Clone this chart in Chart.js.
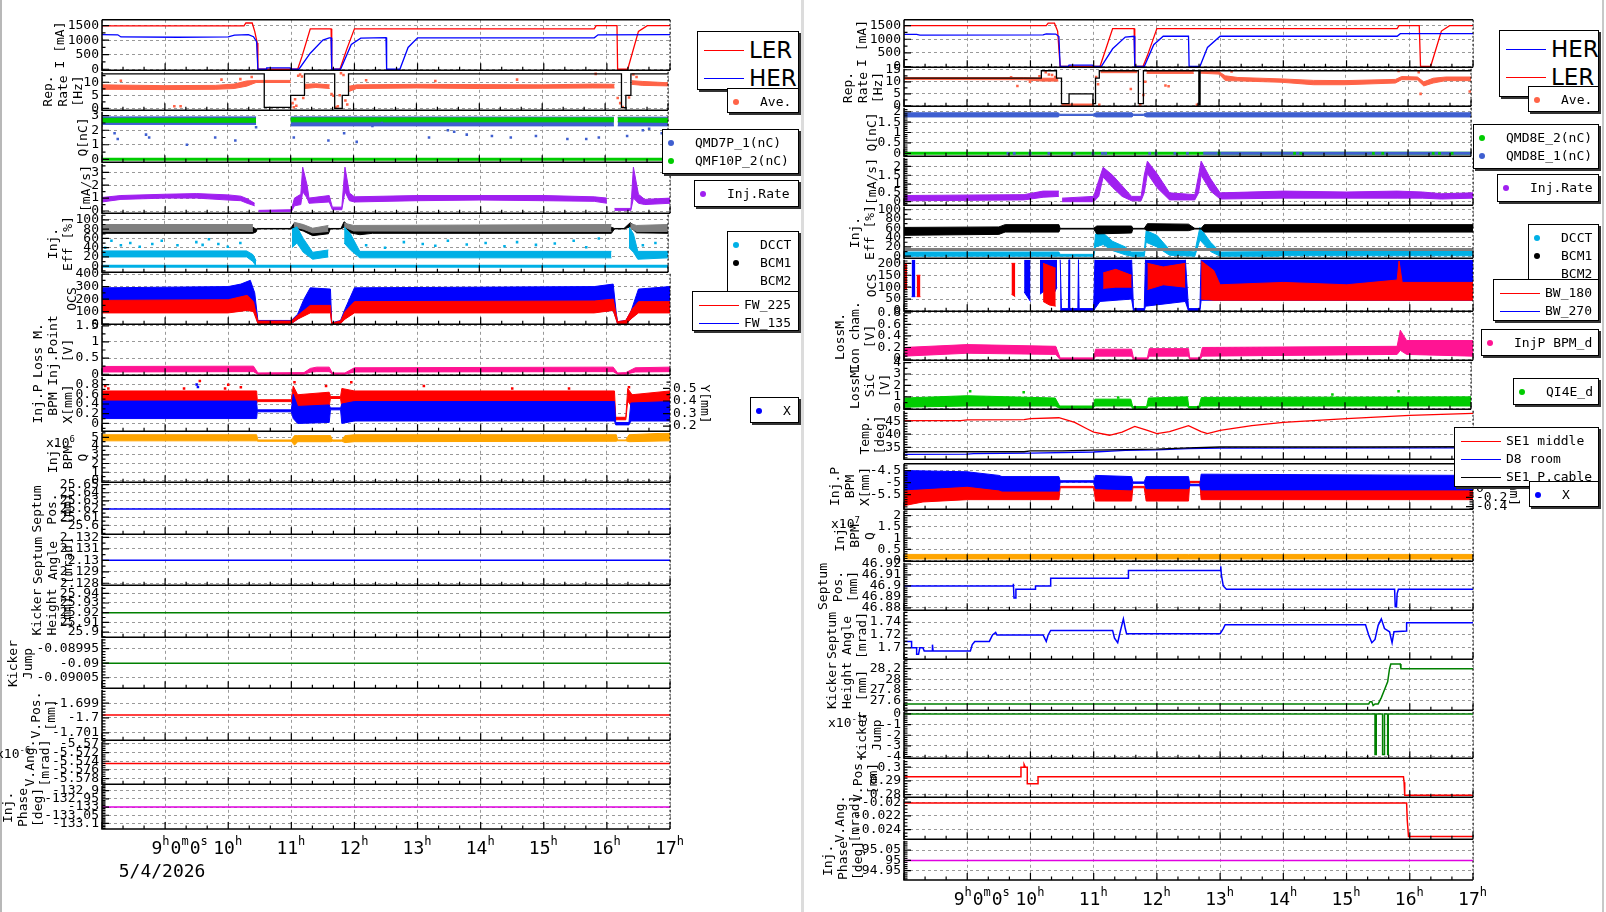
<!DOCTYPE html>
<html>
<head>
<meta charset="utf-8">
<title>injection monitor</title>
<script src="https://cdn.jsdelivr.net/npm/chart.js@4.4.1/dist/chart.umd.min.js"></script>
<style>
html,body{margin:0;padding:0;background:#fff;}
body{position:relative;width:1606px;height:912px;overflow:hidden;font-family:'DejaVu Sans Mono',monospace;}
canvas{position:absolute;}
.leg{position:absolute;box-sizing:border-box;background:#fff;border:1px solid #000;box-shadow:2px 2px 0 #333;z-index:5;}
.leg div{position:absolute;white-space:nowrap;}
.txt{position:absolute;z-index:4;font-size:13px;font-family:'DejaVu Sans Mono';white-space:nowrap;}
.txt sup{font-size:9px;}
.sep{position:absolute;top:0;height:912px;}
</style>
</head>
<body>
<div class="sep" style="left:0;width:2px;background:#b8b8b8"></div>
<div class="sep" style="left:801px;width:3px;background:#dcdcdc"></div>
<div class="sep" style="left:1602px;width:2px;background:#c8c8c8"></div>
<script>
// time axis (hours)
const hourTicks = [8, 9, 10, 11, 12, 13, 14, 15, 16, 17];
const xTickHours = [9, 10, 11, 12, 13, 14, 15, 16, 17];
const xTickLabels = [[['9','h'],['0','m'],['0','s']], [['10','h']], [['11','h']], [['12','h']], [['13','h']], [['14','h']], [['15','h']], [['16','h']], [['17','h']]];
const dateLabel = '5/4/2026';

// ---------- left column data ----------
const lerL = [[8,1490],[9.5,1490],[10.25,1490],[10.28,1590],[10.38,1590],[10.42,1300],[10.46,900],[10.47,0],[11.1,0],[11.17,450],[11.3,1390],[11.63,1390],[11.64,0],[11.77,0],[11.88,700],[12.0,1390],[15.8,1390],[15.83,1500],[16.16,1500],[16.17,0],[16.33,0],[16.5,1300],[16.64,1500],[17,1500]];
const herL = [[8,1190],[8.25,1185],[8.3,1110],[9.2,1100],[10.0,1110],[10.1,1170],[10.32,1190],[10.4,1120],[10.45,950],[10.47,0],[10.6,0],[10.61,50],[10.98,50],[10.99,0],[11.12,0],[11.3,550],[11.5,1000],[11.6,1080],[11.63,1080],[11.64,0],[11.78,0],[11.95,850],[12.1,1070],[12.5,1090],[12.51,0],[12.72,0],[12.85,750],[13.0,1080],[15.8,1080],[15.86,1185],[17,1190]];

const repSetL = [[8,13.2],[10.58,13.2],[10.58,0.4],[11.0,0.4],[11.0,5],[11.22,5],[11.22,13.2],[11.7,13.2],[11.7,0],[11.82,0],[11.82,5],[11.92,5],[11.92,13.2],[16.26,13.2],[16.26,0.3],[16.33,0.3],[16.33,5],[16.41,5],[16.41,13.2],[17,13.2]];
const repAveL = [[8,7.3,9],[9,7.2,8.7],[9.8,7.3,8.8],[10.1,7.6,9.3],[10.3,8.5,10.5],[10.45,9.9,10.7],[11.0,9.9,10.7],[11.01,null,null],[11.22,7.6,9.2],[11.4,8,9.4],[11.62,7.6,9],[11.63,null,null],[11.93,6.5,8.5],[12.05,7.6,9],[13,7.8,9.2],[14,7.6,9.1],[15,7.7,9],[15.8,7.8,9.3],[16.15,7.8,9.2],[16.17,null,null],[16.42,9.2,10.6],[16.6,8.8,10.3],[17,8.6,9.8]];
const repOutL = [[8.3,10.6],[9.15,0.8],[9.25,0.8],[9.9,11],[10.2,11.2],[10.38,12],[11.03,2],[11.05,0.4],[11.07,3.5],[11.09,1],[11.12,12.5],[11.15,13],[11.18,12.2],[11.2,4],[11.65,5.5],[11.68,4.8],[11.72,0.3],[11.75,0.8],[11.78,5],[11.8,13.5],[11.84,12.8],[11.87,3],[11.9,1.5],[12.2,10.8],[13.3,10.5],[14.6,11],[15.85,13.2],[16.2,4],[16.24,2],[16.28,0.5],[16.38,4.2],[16.45,13],[16.5,12]];

const qBluL = [[8,2.4,2.92],[10.45,2.4,2.92],[10.46,null,null],[11.0,2.3,2.92],[16.14,2.3,2.9],[16.15,null,null],[16.2,2.3,2.9],[17,2.3,2.9]];
const qGrnL = [[8,2.55,2.82],[10.45,2.55,2.82],[10.46,null,null],[11.0,2.58,2.85],[16.14,2.58,2.85],[16.15,null,null],[16.2,2.58,2.85],[17,2.55,2.82]];
const qOutL = [[8.2,1.8],[8.25,1.4],[8.7,1.7],[8.75,1.5],[9.35,1.0],[9.8,1.5],[10.12,1.3],[10.45,2.2],[11.05,1.5],[11.6,1.3],[11.85,1.8],[12.05,1.2],[12.3,2.3],[12.45,2.5],[13.2,1.5],[13.5,2.0],[13.6,1.9],[13.8,1.7],[14.2,1.6],[14.5,1.5],[14.9,1.6],[15.4,1.4],[15.7,1.4],[15.9,1.5],[16.35,1.6],[16.6,2.0],[16.7,2.1],[16.9,1.8],[16.95,1.3]];
const qZeroL = [[8,0],[17,0]];

const rateL = [[8,0.7,1.05],[8.3,0.9,1.2],[9,1.0,1.3],[9.5,1.0,1.35],[10.0,0.85,1.25],[10.2,0.8,1.15],[10.3,0.6,0.95],[10.42,0.4,0.6],[10.46,null,null],[10.48,-0.05,0.05],[11.0,-0.05,0.1],[11.05,0.4,1.0],[11.15,0.5,1.3],[11.18,1.5,3.4],[11.25,1.0,2.0],[11.28,0.6,1.0],[11.6,0.7,1.2],[11.65,0.1,0.3],[11.8,0.1,0.3],[11.85,1.5,3.4],[11.92,0.8,1.4],[12.0,0.7,1.1],[13,0.8,1.2],[14,0.85,1.2],[15,0.8,1.2],[15.8,0.75,1.1],[16.0,0.6,1.0],[16.1,null,null],[16.12,0.05,0.2],[16.38,0.05,0.2],[16.42,1.0,3.4],[16.5,0.6,1.3],[16.6,0.5,0.9],[17,0.6,1.0]];

const bcm1L = [[8,71,84],[10.4,71,84],[10.45,74,80],[10.47,80.5,81.5],[11.0,80.5,81.5],[11.05,82,92],[11.2,76,88],[11.35,66,78],[11.6,70,82],[11.63,80.5,81.5],[11.8,80.5,81.5],[11.85,84,96],[11.95,72,84],[12.1,68,80],[12.3,71,84],[16.1,71,84],[16.15,80.5,81.5],[16.3,80.5,81.5],[16.4,85,94],[16.5,72,84],[17,71,84]];
const bcm2L = [[8,75,90],[10.4,75,90],[10.45,null,null],[11.05,85,95],[11.2,80,90],[11.35,72,82],[11.6,75,88],[11.63,null,null],[11.85,85,93],[12,76,88],[16.1,75,90],[16.15,null,null],[16.4,83,92],[16.5,75,88],[17,75,90]];
const dcctL = [[8,20,33],[10.3,20,33],[10.4,10,25],[10.45,0,12],[10.47,null,null],[11.02,40,80],[11.1,50,85],[11.2,30,60],[11.35,15,30],[11.6,20,35],[11.63,null,null],[11.85,50,85],[11.95,35,70],[12.1,18,32],[16.1,18,32],[16.15,null,null],[16.38,40,85],[16.45,30,70],[16.52,15,32],[17,18,32]];
const dcctOutL = [[8.05,40],[8.15,55],[8.3,45],[8.45,50],[8.6,42],[8.8,48],[8.95,55],[9.2,45],[9.5,52],[9.6,46],[9.7,58],[9.85,48],[10.0,42],[10.2,50],[12.2,45],[12.5,40],[12.8,52],[13.1,48],[13.3,44],[13.5,55],[13.8,47],[14.1,50],[14.4,43],[14.6,52],[14.9,46],[15.2,49],[15.5,55],[15.7,41],[15.9,60],[16.6,45],[16.8,50]];
const dcctZeroL = [[8,0],[17,0]];

const fw135L = [[8,100,290],[9,100,295],[10,100,300],[10.2,110,320],[10.35,120,350],[10.42,100,250],[10.47,5,30],[11.0,5,30],[11.1,40,80],[11.2,80,200],[11.3,120,290],[11.62,120,280],[11.64,0,10],[11.78,5,30],[11.85,50,120],[12.0,100,290],[15.8,100,300],[16.1,110,320],[16.15,40,80],[16.17,0,20],[16.3,0,30],[16.38,40,100],[16.5,100,280],[17,100,300]];
const fw225L = [[8,90,190],[10,90,195],[10.3,110,230],[10.4,100,180],[10.47,5,25],[11.0,5,25],[11.1,40,70],[11.3,90,150],[11.62,90,150],[11.64,0,10],[11.78,5,25],[11.85,40,100],[12.0,90,180],[15.8,90,185],[16.1,110,200],[16.17,0,20],[16.3,0,30],[16.4,50,120],[16.5,90,180],[17,90,180]];

const lossL = [[8,0.07,0.24],[10.4,0.08,0.25],[10.47,0,0.04],[11.2,0,0.05],[11.3,0.06,0.18],[11.4,0.08,0.22],[11.6,0.08,0.22],[11.65,0,0.04],[11.85,0,0.04],[12.0,0.07,0.2],[16.1,0.08,0.22],[16.17,0,0.04],[16.3,0,0.05],[16.45,0.07,0.2],[17,0.08,0.22]];

const bpmXL = [[8,0.1,0.46],[10.45,0.1,0.46],[10.46,0.24,0.28],[11.0,0.24,0.28],[11.03,0.1,0.6],[11.1,0,0.35],[11.6,0.02,0.38],[11.62,0.28,0.32],[11.78,0.28,0.32],[11.8,0.0,0.4],[12.0,0.05,0.45],[16.12,0.05,0.45],[16.14,-0.03,0.02],[16.35,-0.03,0.02],[16.38,0.05,0.42],[17,0.05,0.45]];
const bpmYL = [[8,0.38,0.48],[10.45,0.38,0.48],[10.46,0.395,0.41],[11.0,0.395,0.41],[11.03,0.36,0.52],[11.1,0.35,0.45],[11.6,0.36,0.47],[11.62,0.42,0.435],[11.78,0.42,0.435],[11.8,0.35,0.5],[12.0,0.37,0.48],[16.12,0.37,0.48],[16.14,0.25,0.27],[16.3,0.25,0.27],[16.33,0.4,0.5],[16.4,0.35,0.45],[17,0.37,0.48]];
const bpmOutYL = [[8.05,0.52],[8.1,0.5],[9.3,0.5],[9.55,0.56],[9.95,0.5],[10.0,0.53],[10.2,0.51],[11.05,0.55],[11.55,0.52],[11.95,0.55],[13.1,0.52],[14.5,0.5],[15.4,0.5],[16.35,0.51]];
const bpmOutXL = [[9.5,0.8],[9.52,0.75]];

const bpmQL = [[8,4.6,5.3],[10.45,4.6,5.3],[10.47,4.55,4.7],[11.0,4.55,4.7],[11.05,4.1,5.2],[11.1,4.5,5.2],[11.62,4.5,5.2],[11.65,4.55,4.7],[11.8,4.55,4.7],[11.85,4.4,5.2],[12,4.5,5.3],[16.15,4.55,5.3],[16.17,4.6,4.7],[16.3,4.6,4.7],[16.35,4.5,5.3],[17,4.6,5.5]];

const sepPosL = [[8,25.62],[17,25.62]];
const sepAngL = [[8,2.13],[17,2.13]];
const kickHL = [[8,25.92],[17,25.92]];
const kickJL = [[8,-0.09],[17,-0.09]];
const vPosL = [[8,-1.6998],[17,-1.6998]];
const vAngL = [[8,-5.5745],[17,-5.5745]];
const phaseL = [[8,-133],[17,-133]];

// ---------- right column data ----------
const lerR = [[8,1500],[10.25,1500],[10.28,1590],[10.38,1590],[10.43,1300],[10.47,0],[11.1,0],[11.3,1390],[11.64,1390],[11.65,0],[11.78,0],[11.85,400],[12.0,1390],[15.8,1390],[15.83,1500],[16.15,1500],[16.17,0],[16.33,0],[16.5,1300],[16.63,1500],[17,1500]];
const herR = [[8,1180],[8.2,1180],[8.25,1150],[10.2,1160],[10.25,1200],[10.4,1190],[10.45,1100],[10.47,0],[10.6,0],[10.61,50],[10.98,50],[11.0,0],[11.12,0],[11.3,650],[11.5,1080],[11.64,1110],[11.65,0],[11.8,0],[11.95,800],[12.1,1110],[12.5,1110],[12.51,0],[12.68,0],[12.8,700],[13.0,1110],[15.8,1110],[15.85,1205],[17,1205]];

const repSetR = [[8,11.5],[10.18,11.5],[10.18,14.6],[10.42,14.6],[10.42,11.5],[10.5,11.5],[10.5,1],[10.62,1],[10.62,5],[11.0,5],[11.0,1],[11.04,1],[11.04,11.5],[11.1,11.5],[11.1,14.6],[11.72,14.6],[11.72,1],[11.8,1],[11.8,14.6],[12.68,14.6],[12.68,0.5],[12.7,0.5],[12.7,14.6],[17,14.6]];
const repAveR = [[8,11.0,11.8],[9.9,10.9,11.8],[10.2,10.3,11.5],[10.45,10.3,11.5],[10.46,null,null],[10.5,0.2,0.8],[11.02,0.2,0.8],[11.03,null,null],[11.12,13.8,14.5],[11.7,13.8,14.5],[11.71,null,null],[11.85,13.5,14.3],[12.6,13.5,14.3],[12.61,null,null],[12.7,13.6,14.4],[13.0,13.2,14.2],[13.1,10.5,12.5],[13.3,10.4,11.8],[14,9.8,11.2],[14.5,8.8,10.6],[15,8.8,10.5],[15.8,9.5,11],[15.9,10.9,12.2],[16.15,10.8,12],[16.25,8.3,10],[16.4,9.5,11.5],[16.6,10.5,12],[17,10.5,12]];
const repOutR = [[9.7,11.9],[9.8,8.3],[10.0,10.0],[10.15,12.3],[10.25,14],[10.3,13],[10.35,12.8],[10.4,12],[11.05,12],[11.08,9],[11.1,0.5],[11.6,7],[11.75,0.4],[11.8,4.5],[11.83,10],[12.15,8.5],[12.2,8.2],[12.65,0.5],[13.2,14.3],[15.85,14.5],[16.17,14],[16.2,5],[16.98,6]];

const qBluR = [[8,1.75,1.95],[10.45,1.75,1.95],[10.47,1.82,1.88],[11.0,1.82,1.88],[11.05,1.75,1.95],[11.62,1.75,1.95],[11.64,1.82,1.88],[11.8,1.82,1.88],[11.85,1.75,1.95],[17,1.75,1.95]];
const qZeroGR = [[8,0],[17,0]];
const qZeroBR = [[12.75,0],[17,0]];
const qZeroBDotsR = [[9.65,0],[9.75,0],[10.0,0],[10.3,0],[10.7,0],[11.0,0],[11.15,0],[11.2,0],[11.9,0],[12.0,0],[12.3,0],[12.5,0]];
const qZeroGDotsR = [[13.0,0],[14.2,0],[14.3,0],[15.45,0],[15.6,0],[16.4,0],[16.5,0],[16.7,0]];

const rateR = [[8,0.05,0.35],[9.9,0.1,0.4],[10.2,0.25,0.6],[10.45,0.3,0.6],[10.47,null,null],[10.5,0,0.2],[11.0,0,0.3],[11.08,0.3,1.2],[11.15,1.4,1.95],[11.3,0.8,1.5],[11.45,0.3,0.9],[11.6,0.05,0.3],[11.75,0.05,0.3],[11.8,0.5,1.5],[11.85,1.6,2.3],[12.0,0.8,1.6],[12.2,0.1,0.5],[12.6,0.1,0.4],[12.66,0.5,1.5],[12.7,1.5,2.3],[12.85,0.6,1.3],[13.0,0.15,0.5],[14,0.2,0.6],[15,0.2,0.55],[15.8,0.2,0.6],[16.2,0.2,0.55],[16.5,0.15,0.45],[17,0.2,0.5]];

const bcm1R = [[8,45,62],[9.5,47,63],[9.6,52,68],[10.45,52,68],[10.47,58.5,60],[11.0,58.5,60],[11.05,48,65],[11.6,50,65],[11.62,58.5,60],[11.8,58.5,60],[11.85,55,70],[12.5,55,69],[12.6,58.5,60],[12.7,58.5,60],[12.75,52,68],[17,52,68]];
const bcm2R = [[8,14.3],[17,14.3]];
const dcctR = [[8,0,9],[10.45,0,9],[10.47,0,4],[11.0,0,4],[11.03,20,48],[11.15,25,50],[11.3,12,32],[11.5,3,20],[11.6,0,9],[11.8,0,9],[11.83,30,55],[12.0,20,45],[12.2,2,14],[12.6,0,9],[12.68,35,62],[12.85,10,30],[13.0,0,9],[13.9,0,10],[14.0,1,15],[15.8,1,16],[16.2,1,13],[17,1,13]];

const bw270R = [[8.12,60,220],[8.18,60,220],[8.19,null,null],[9.9,80,220],[9.95,60,220],[10.0,40,220],[10.04,null,null],[10.15,70,220],[10.25,90,220],[10.35,60,220],[10.42,100,220],[10.43,null,null],[10.47,0,220],[10.49,0,10],[10.6,0,10],[10.61,0,220],[10.62,0,10],[10.75,0,10],[10.76,0,220],[10.77,0,10],[11.0,0,10],[11.02,10,220],[11.1,40,220],[11.6,50,220],[11.63,0,10],[11.8,0,10],[11.82,20,220],[12.45,40,220],[12.5,0,10],[12.68,0,10],[12.7,45,220],[17,45,220]];
const bw180R = [[8.0,90,200],[8.05,90,200],[8.06,null,null],[8.2,60,150],[8.26,60,150],[8.27,null,null],[9.7,70,200],[9.76,60,200],[9.77,null,null],[10.2,40,200],[10.3,25,190],[10.4,20,180],[10.42,null,null],[11.15,95,160],[11.35,100,175],[11.6,100,150],[11.61,null,null],[11.85,90,200],[12.1,110,185],[12.45,100,200],[12.46,null,null],[12.7,50,210],[12.9,45,170],[13.0,45,110],[14,45,120],[15,45,110],[15.8,45,130],[15.83,45,210],[15.88,45,120],[17,45,120]];

const ionR = [[8,0.05,0.2],[9,0.1,0.25],[10.4,0.08,0.22],[10.47,-0.01,0.02],[11.0,-0.01,0.02],[11.03,0.05,0.17],[11.6,0.05,0.17],[11.63,-0.01,0.02],[11.85,-0.01,0.02],[11.88,0.05,0.18],[12.5,0.05,0.18],[12.52,-0.01,0.02],[12.68,-0.01,0.02],[12.72,0.05,0.2],[15.8,0.08,0.22],[15.85,0.15,0.5],[15.95,0.08,0.32],[17,0.05,0.32]];
const sicR = [[8,0.1,0.9],[9,0.2,1.1],[10.4,0.2,0.9],[10.47,0,0.2],[11.0,0,0.2],[11.03,0.2,0.8],[11.6,0.2,0.8],[11.63,0,0.15],[11.85,0,0.15],[11.88,0.2,0.9],[12.5,0.2,1.0],[12.52,0,0.15],[12.68,0,0.15],[12.72,0.2,0.95],[17,0.2,1.0]];
const sicOutR = [[9.05,1.5],[9.9,1.4],[11.4,0.95],[14.8,1.2],[15.85,1.5]];

const se1MidR = [[8,45.2],[8.9,45.2],[9.0,45.5],[9.9,45.6],[10.0,46.0],[10.45,46.3],[10.7,44.5],[10.9,42],[11.0,40.8],[11.25,39.6],[11.45,40.8],[11.65,43.0],[11.85,41.5],[12.0,40.2],[12.2,41],[12.5,43.3],[12.7,41],[12.8,40.2],[13.0,41.5],[13.5,43.3],[14,44.5],[15,46],[16,47.2],[17,48]];
const d8R = [[8,32.3],[9.0,32.4],[9.1,32.6],[10,32.8],[11,33.2],[11.5,33.8],[12,34],[12.5,34.5],[13,34.7],[17,34.8]];
const pcabR = [[8,33.3],[9.9,33.3],[10,33.6],[10.5,33.6],[11.0,33.9],[12.0,34.3],[12.5,34.8],[13,35.1],[15.3,35.1],[17,35.2]];

const bpmXR = [[8,-5.3,-4.5],[9.0,-5.15,-4.55],[9.5,-5.3,-4.7],[9.55,-5.35,-4.75],[10.45,-5.35,-4.75],[10.47,-4.98,-4.92],[11.0,-4.98,-4.92],[11.03,-5.25,-4.7],[11.6,-5.3,-4.75],[11.62,-5.03,-4.97],[11.8,-5.03,-4.97],[11.83,-5.25,-4.75],[12.5,-5.25,-4.75],[12.52,-5.13,-5.07],[12.68,-5.13,-5.07],[12.7,-5.3,-4.65],[17,-5.3,-4.7]];
const bpmYR = [[8,-0.38,-0.05],[8.3,-0.3,0.0],[9.0,-0.25,0.05],[10.45,-0.25,0.05],[10.47,0.01,0.04],[11.0,0.01,0.04],[11.03,-0.28,0.05],[11.6,-0.28,0.05],[11.62,0.01,0.04],[11.8,0.01,0.04],[11.83,-0.28,0.05],[12.5,-0.28,0.05],[12.52,0.12,0.15],[12.68,0.12,0.15],[12.7,-0.25,0.15],[17,-0.25,0.12]];
const bpmQR = [[8,0.08,0.28],[17,0.08,0.28]];

const sepPosR = [[8,46.9],[9.73,46.9],[9.73,46.902],[9.74,46.889],[9.76,46.889],[9.77,46.897],[10.08,46.897],[10.08,46.9],[10.32,46.9],[10.32,46.907],[11.55,46.907],[11.55,46.914],[13.0,46.914],[13.01,46.918],[13.02,46.91],[13.05,46.9],[13.1,46.897],[15.76,46.897],[15.77,46.881],[15.79,46.881],[15.8,46.893],[15.82,46.897],[17,46.897]];
const sepAngR = [[8,1.71],[8.12,1.71],[8.12,1.7],[8.2,1.7],[8.2,1.69],[8.23,1.69],[8.25,1.7],[8.3,1.7],[8.32,1.695],[8.45,1.695],[8.45,1.705],[8.46,1.695],[9.05,1.695],[9.08,1.705],[9.12,1.71],[9.35,1.71],[9.4,1.72],[9.45,1.724],[9.47,1.72],[10.2,1.72],[10.25,1.71],[10.28,1.72],[10.32,1.727],[11.3,1.727],[11.33,1.715],[11.38,1.708],[11.42,1.725],[11.47,1.745],[11.5,1.73],[11.52,1.722],[13.0,1.722],[13.05,1.73],[13.08,1.736],[15.3,1.736],[15.35,1.72],[15.4,1.708],[15.45,1.713],[15.5,1.735],[15.55,1.745],[15.6,1.73],[15.68,1.725],[15.72,1.708],[15.75,1.725],[15.95,1.726],[15.95,1.739],[17,1.739]];
const kickHR = [[8,27.53],[15.35,27.53],[15.37,27.57],[15.4,27.57],[15.42,27.5],[15.45,27.53],[15.5,27.53],[15.55,27.65],[15.6,27.8],[15.65,27.95],[15.68,28.2],[15.7,28.29],[15.85,28.29],[15.86,28.2],[17,28.2]];
const kickJR = [[8,0],[15.45,0],[15.45,-3.8],[15.47,-3.8],[15.47,0],[15.57,0],[15.57,-3.8],[15.6,-3.8],[15.6,0],[15.65,0],[15.65,-3.8],[15.66,-3.8],[15.66,0],[17,0]];
const vPosR = [[8,0.293],[9.85,0.293],[9.85,0.3],[9.9,0.3],[9.9,0.302],[9.92,0.3],[9.95,0.3],[9.95,0.288],[10.12,0.288],[10.12,0.293],[15.9,0.293],[15.91,0.289],[15.92,0.2795],[17,0.2795]];
const vAngR = [[8,-0.0201],[15.95,-0.0201],[15.96,-0.0226],[15.97,-0.0226],[15.98,-0.025],[17,-0.025]];
const phaseR = [[8,95],[17,95]];

// ---------- colours ----------
const RED = '#ff0000', BLUE = '#0000ff', TOM = '#ff6347', QBLUE = '#3f5fd0', QGRN = '#00cc00', PURP = '#a020f0',
      CYAN = '#00b0e6', GREY = '#808080', PINK = '#ff1493', ORNG = '#ffa500', KGRN = '#008000', MAG = '#e000e0';

// ---------- dataset helpers ----------
function xy(pts, i) { return pts.map(p => ({x: p[0], y: p[i]})); }
function line(pts, color, w, axis) {
  return {data: xy(pts, 1), borderColor: color, borderWidth: w || 1.3, pointRadius: 0, fill: false, tension: 0, yAxisID: axis || 'y'};
}
function band(pts, color, axis) {
  const out = []; let seg = [];
  const flush = () => {
    if (seg.length > 1) {
      out.push({data: xy(seg, 1), borderColor: color, borderWidth: 1, pointRadius: 0, fill: false, yAxisID: axis || 'y'});
      out.push({data: xy(seg, 2), borderColor: color, borderWidth: 1, pointRadius: 0, fill: '-1', backgroundColor: color, yAxisID: axis || 'y'});
    }
    seg = [];
  };
  pts.forEach(p => { if (p[1] === null) flush(); else seg.push(p); });
  flush();
  return out;
}
function dots(pts, color, r, axis) {
  return {data: xy(pts, 1), showLine: false, pointRadius: r || 1.8, pointStyle: 'rect', pointBackgroundColor: color,
          pointBorderColor: color, pointBorderWidth: 0, borderColor: color, yAxisID: axis || 'y'};
}

// ---------- panels ----------
const COLS = {L: {l: 102, r: 670}, R: {l: 904, r: 1473}};
const panels = [
  {col:'L', top:19, bot:71, min:-33, max:1700, ticks:[0,500,1000,1500], minor:250, tx:60, title:'I [mA]', topLine:true, ds:[line(lerL,RED), line(herL,BLUE)]},
  {col:'L', top:71, bot:111, min:-0.7, max:14, ticks:[0,5,10], minor:2.5, tx:48, title:['Rep.','Rate','[Hz]'], ds:[band(repAveL,TOM), dots(repOutL,TOM), line(repSetL,'#000',1.3)]},
  {col:'L', top:111, bot:163, min:-0.2, max:3.27, ticks:[0,1,2,3], minor:0.5, tx:83, title:'Q[nC]', ds:[band(qBluL,QBLUE), band(qGrnL,QGRN), dots(qOutL,QBLUE), line(qZeroL,QGRN,3)]},
  {col:'L', top:163, bot:214, min:-0.17, max:3.66, ticks:[0,1,2,3], minor:0.5, tx:86, title:'[mA/s]', ds:[band(rateL,PURP)]},
  {col:'L', top:214, bot:273, min:-13, max:111, ticks:[0,20,40,60,80,100], minor:10, tx:53, title:['Inj.','Eff [%]'], ds:[band(bcm1L,'#000'), band(bcm2L,GREY), band(dcctL,CYAN), dots(dcctOutL,CYAN), line(dcctZeroL,CYAN,3)]},
  {col:'L', top:273, bot:325, min:0, max:402, ticks:[0,100,200,300,400], minor:50, tx:72, title:'OCS', ds:[band(fw135L,BLUE), band(fw225L,RED)]},
  {col:'L', top:325, bot:376, min:-0.03, max:1.5, ticks:[0,0.5,1,1.5], minor:0.25, tx:38, title:['Loss M.','Inj.Point','[V]'], ds:[band(lossL,PINK)]},
  {col:'L', top:376, bot:432, min:-0.16, max:0.96, ticks:[0,0.2,0.4,0.6,0.8], minor:0.1, tx:38, title:['Inj.P','BPM','X[mm]'],
   y2:{min:0.159, max:0.593, ticks:[0.2,0.3,0.4,0.5], w:42, title:'Y[mm]'},
   ds:[band(bpmYL,RED,'y2'), dots(bpmOutYL,RED,1.8,'y2'), band(bpmXL,BLUE), dots(bpmOutXL,BLUE)]},
  {col:'L', top:432, bot:483, min:-0.14, max:5.52, ticks:[0,1,2,3,4,5], minor:0.5, tx:53, title:['Inj.','BPM','Q'], ds:[band(bpmQL,ORNG)]},
  {col:'L', top:483, bot:535, min:25.589, max:25.651, ticks:[25.6,25.61,25.62,25.63,25.64,25.65], minor:0.005, tx:37, title:['Septum','Pos.','[mm]'], ds:[line(sepPosL,BLUE,1.5)]},
  {col:'L', top:535, bot:586, min:2.12783, max:2.13214, ticks:[2.128,2.129,2.13,2.131,2.132], minor:0.0005, tx:38, title:['Septum','Angle','[mrad]'], ds:[line(sepAngL,BLUE,1.5)]},
  {col:'L', top:586, bot:638, min:25.8947, max:25.9467, ticks:[25.9,25.91,25.92,25.93,25.94], minor:0.005, tx:37, title:['Kicker','Height','[mm]'], ds:[line(kickHL,KGRN,1.5)]},
  {col:'L', top:638, bot:689, min:-0.090086, max:-0.089916, ticks:[-0.09005,-0.09,-0.08995], minor:0.00001, tx:13, title:['Kicker','Jump'], ds:[line(kickJL,KGRN,1.5)]},
  {col:'L', top:689, bot:741, min:-1.7015, max:-1.6981, ticks:[-1.701,-1.7,-1.699], minor:0.0002, tx:36, title:['V.Pos.','[mm]'], ds:[line(vPosL,RED,1.5)]},
  {col:'L', top:741, bot:785, min:-5.5793, max:-5.5695, ticks:[-5.578,-5.576,-5.574,-5.572,-5.57], minor:0.0005, tx:30, title:['V.Ang.','[mrad]'], ds:[line(vAngL,RED,1.5)]},
  {col:'L', top:785, bot:829, min:-133.134, max:-132.87, ticks:[-133.1,-133.05,-133,-132.95,-132.9], minor:0.01, tx:8, title:['Inj.','Phase','[deg]'], xlab:true, date:true, ds:[line(phaseL,MAG,1.5)]},

  {col:'R', top:19, bot:68, min:-25, max:1713, ticks:[0,500,1000,1500], minor:250, tx:862, title:'I [mA]', topLine:true, ds:[line(lerR,RED), line(herR,BLUE)]},
  {col:'R', top:68, bot:107, min:-0.1, max:15.4, ticks:[0,5,10,15], minor:2.5, tx:848, title:['Rep.','Rate','[Hz]'], ds:[band(repAveR,TOM), dots(repOutR,TOM), line(repSetR,'#000',1.3)]},
  {col:'R', top:107, bot:157, min:-0.14, max:2.19, ticks:[0,0.5,1,1.5,2], minor:0.1, tx:872, title:'Q[nC]', ds:[band(qBluR,QBLUE), line(qZeroGR,QGRN,3), line(qZeroBR,QBLUE,3), dots(qZeroBDotsR,QBLUE,2), dots(qZeroGDotsR,QGRN,2)]},
  {col:'R', top:157, bot:206, min:-0.2, max:2.49, ticks:[0,0.5,1,1.5,2], minor:0.1, tx:872, title:'[mA/s]', ds:[band(rateR,PURP)]},
  {col:'R', top:206, bot:259, min:-4.3, max:106.4, ticks:[0,20,40,60,80,100], minor:10, tx:855, title:['Inj.','Eff [%]'], ds:[band(dcctR,CYAN), line(bcm2R,GREY,3), band(bcm1R,'#000')]},
  {col:'R', top:259, bot:312, min:-1, max:215, ticks:[0,50,100,150,200], minor:10, tx:872, title:'OCS', ds:[band(bw270R,BLUE), band(bw180R,RED)]},
  {col:'R', top:312, bot:361, min:-0.02, max:0.8, ticks:[0,0.2,0.4,0.6,0.8], minor:0.05, tx:840, title:['LossM.','Ion cham.','[V]'], ds:[band(ionR,PINK)]},
  {col:'R', top:361, bot:410, min:-0.08, max:4.07, ticks:[0,1,2,3,4], minor:0.5, tx:855, title:['LossM.','SiC','[V]'], ds:[band(sicR,QGRN), dots(sicOutR,QGRN)]},
  {col:'R', top:410, bot:460, min:30.44, max:48.96, ticks:[35,40,45], minor:1, tx:865, title:['Temp.','[deg]'], ds:[line(se1MidR,RED), line(d8R,BLUE), line(pcabR,'#000')]},
  {col:'R', top:463, bot:510, min:-6.1, max:-4.22, ticks:[-5.5,-5,-4.5], minor:0.1, tx:835, title:['Inj.P','BPM','X[mm]'], topLine:true,
   y2:{min:-0.458, max:0.533, ticks:[-0.4,-0.2,0,0.2,0.4], w:48, title:'Y[mm]'},
   ds:[band(bpmYR,RED,'y2'), band(bpmXR,BLUE)]},
  {col:'R', top:510, bot:562, min:-0.02, max:2.21, ticks:[0,0.5,1,1.5,2], minor:0.1, tx:840, title:['Inj.','BPM','Q'], ds:[band(bpmQR,ORNG)]},
  {col:'R', top:562, bot:611, min:46.8778, max:46.9211, ticks:[46.88,46.89,46.9,46.91,46.92], minor:0.002, tx:823, title:['Septum','Pos.','[mm]'], ds:[line(sepPosR,BLUE,1.5)]},
  {col:'R', top:611, bot:660, min:1.6824, max:1.756, ticks:[1.7,1.72,1.74], minor:0.005, tx:832, title:['Septum','Angle','[mrad]'], ds:[line(sepAngR,BLUE,1.5)]},
  {col:'R', top:660, bot:711, min:27.41, max:28.35, ticks:[27.4,27.6,27.8,28,28.2], minor:0.05, tx:832, title:['Kicker','Height','[mm]'], ds:[line(kickHR,KGRN,1.5)]},
  {col:'R', top:711, bot:759, min:-4.15, max:0.2, ticks:[-4,-3,-2,-1,0], minor:0.2, tx:862, title:['Kicker','Jump'], ds:[line(kickJR,KGRN,1.5)]},
  {col:'R', top:759, bot:798, min:0.2781, max:0.3054, ticks:[0.28,0.29,0.3], minor:0.002, tx:858, title:['V.Pos.','[mm]'], ds:[line(vPosR,RED,1.5)]},
  {col:'R', top:798, bot:840, min:-0.0254, max:-0.0195, ticks:[-0.024,-0.022,-0.02], minor:0.0005, tx:840, title:['V.Ang.','[mrad]'], ds:[line(vAngR,RED,1.5)]},
  {col:'R', top:840, bot:880, min:94.905, max:95.095, ticks:[94.95,95,95.05], minor:0.01, tx:828, title:['Inj.','Phase','[deg]'], xlab:true, ds:[line(phaseR,MAG,1.5)]}
];

// frame, inward ticks and time labels
const framePlugin = {
  id: 'frame',
  afterDatasetsDraw(chart, args, o) {
    const {ctx, chartArea: a, scales} = chart;
    const x = scales.x, y = scales.y;
    ctx.save();
    ctx.strokeStyle = '#000';
    ctx.lineWidth = 1.5;
    ctx.beginPath();
    ctx.moveTo(a.left, a.top); ctx.lineTo(a.left, a.bottom); ctx.lineTo(a.right, a.bottom);
    if (o.topLine) { ctx.moveTo(a.left, a.top); ctx.lineTo(a.right, a.top); }
    ctx.stroke();
    ctx.lineWidth = 1;
    ctx.setLineDash([2, 2]);
    ctx.beginPath(); ctx.moveTo(a.right, a.top); ctx.lineTo(a.right, a.bottom); ctx.stroke();
    ctx.setLineDash([]);
    ctx.lineWidth = 1.2;
    ctx.beginPath();
    for (let k = 0; k <= 27; k++) {
      const px = x.getPixelForValue(8 + k / 3), len = k % 3 === 0 ? 7 : 3.5;
      ctx.moveTo(px, a.bottom); ctx.lineTo(px, a.bottom - len);
    }
    const yTicks = (sc, x0, dir) => {
      sc.ticks.forEach(t => { const py = sc.getPixelForValue(t.value); ctx.moveTo(x0, py); ctx.lineTo(x0 + dir * 7, py); });
      const m = sc === y ? o.minor : o.minor2;
      if (m) {
        const n0 = Math.ceil(sc.min / m), n1 = Math.floor(sc.max / m);
        for (let n = n0; n <= n1 && n - n0 < 300; n++) { const py = sc.getPixelForValue(n * m); ctx.moveTo(x0, py); ctx.lineTo(x0 + dir * 3.5, py); }
      }
    };
    yTicks(y, a.left, 1);
    if (scales.y2) yTicks(scales.y2, a.right, -1);
    ctx.stroke();
    ctx.restore();
  },
  afterDraw(chart, args, o) {
    if (!o.xlab) return;
    const {ctx, chartArea: a, scales: {x}} = chart;
    const BIG = "18px 'DejaVu Sans Mono'", SUP = "12px 'DejaVu Sans Mono'";
    const base = a.bottom + 25;
    ctx.save();
    ctx.fillStyle = '#000';
    ctx.textBaseline = 'alphabetic';
    xTickHours.forEach((h, i) => {
      const parts = xTickLabels[i];
      let w = 0;
      parts.forEach(([m, s]) => { ctx.font = BIG; w += ctx.measureText(m).width; ctx.font = SUP; w += ctx.measureText(s).width + 1; });
      let cx = x.getPixelForValue(h) - w / 2 + (i === 0 ? 15 : 0);
      parts.forEach(([m, s]) => {
        ctx.font = BIG; ctx.fillText(m, cx, base); cx += ctx.measureText(m).width;
        ctx.font = SUP; ctx.fillText(s, cx, base - 9); cx += ctx.measureText(s).width + 1;
      });
    });
    if (o.date) {
      ctx.font = BIG; ctx.textAlign = 'center';
      ctx.fillText(dateLabel, x.getPixelForValue(9) - 3, base + 23);
    }
    ctx.restore();
  }
};

const tickFont = {family: "'DejaVu Sans Mono'", size: 13};
function yAxis(min, max, ticks, pos, width, title) {
  return {
    type: 'linear', position: pos, min: min, max: max,
    afterBuildTicks: s => { s.ticks = ticks.filter(v => v >= min && v <= max).map(v => ({value: v})); },
    afterFit: s => { s.width = width; },
    ticks: {autoSkip: false, padding: 3, color: '#000', font: tickFont, callback: v => String(+(+v).toFixed(6))},
    grid: {display: pos === 'left', color: '#999', lineWidth: 1, drawTicks: false},
    border: {display: false, dash: [3, 3]},
    title: {display: true, text: title, color: '#000', padding: 0, font: {family: tickFont.family, size: 13, lineHeight: 15 / 13}}
  };
}

function makePanel(p) {
  const col = COLS[p.col];
  const mt = 10, mb = p.xlab ? 70 : 10;
  const extra = p.xlab ? 22 : 0;   // room for the last time label
  const left = Math.round(p.tx - 7.5);
  const rw = p.y2 ? p.y2.w : 0;
  const W = col.r + 2 + rw + extra - left, H = p.bot - p.top + mt + mb;
  const cv = document.createElement('canvas');
  cv.width = W; cv.height = H;
  cv.style.left = left + 'px';
  cv.style.top = (p.top - mt) + 'px';
  document.body.appendChild(cv);
  const scales = {
    x: {type: 'linear', min: 8, max: 17,
        afterBuildTicks: s => { s.ticks = hourTicks.map(v => ({value: v})); },
        afterFit: s => { s.height = 0; },
        ticks: {display: false},
        grid: {color: '#999', lineWidth: 1, drawTicks: false},
        border: {display: false, dash: [3, 3]}},
    y: yAxis(p.min, p.max, p.ticks, 'left', col.l - left, p.title)
  };
  if (p.y2) scales.y2 = yAxis(p.y2.min, p.y2.max, p.y2.ticks, 'right', p.y2.w, p.y2.title);
  const ds = p.ds.flat();
  ds.forEach((d, i) => { d.order = -i; });
  new Chart(cv, {
    type: 'line',
    data: {datasets: ds},
    options: {
      animation: false, responsive: false, events: [],
      layout: {padding: {left: 0, right: 2 + extra, top: mt, bottom: mb}},
      plugins: {legend: {display: false}, tooltip: {enabled: false},
                frame: {topLine: !!p.topLine, minor: p.minor, minor2: p.y2 ? 0.05 : 0, xlab: !!p.xlab, date: !!p.date}},
      scales: scales
    },
    plugins: [framePlugin]
  });
}
panels.forEach(makePanel);

// ---------- legends ----------
const legends = [
  {x:697, y:31, w:102, h:59, big:true, rows:[['LER',RED,'line'],['HER',BLUE,'line']]},
  {x:727, y:88, w:72, h:25, rows:[['Ave.',TOM,'dot']]},
  {x:662, y:129, w:137, h:45, rows:[['QMD7P_1(nC)',QBLUE,'dot'],['QMF10P_2(nC)',QGRN,'dot']]},
  {x:694, y:180, w:105, h:27, rows:[['Inj.Rate',PURP,'dot']]},
  {x:727, y:231, w:72, h:62, rows:[['DCCT',CYAN,'dot'],['BCM1','#000','dot'],['BCM2',GREY,'none']]},
  {x:692, y:291, w:107, h:40, rows:[['FW_225',RED,'line'],['FW_135',BLUE,'line']]},
  {x:750, y:397, w:49, h:26, rows:[['X',BLUE,'dot']]},
  {x:1499, y:30, w:100, h:67, big:true, rows:[['HER',BLUE,'line'],['LER',RED,'line']]},
  {x:1528, y:86, w:71, h:26, rows:[['Ave.',TOM,'dot']]},
  {x:1473, y:124, w:126, h:45, rows:[['QMD8E_2(nC)',QGRN,'dot'],['QMD8E_1(nC)',QBLUE,'dot']]},
  {x:1497, y:174, w:102, h:28, rows:[['Inj.Rate',PURP,'dot']]},
  {x:1528, y:224, w:71, h:59, rows:[['DCCT',CYAN,'dot'],['BCM1','#000','dot'],['BCM2',GREY,'none']]},
  {x:1493, y:279, w:106, h:42, rows:[['BW_180',RED,'line'],['BW_270',BLUE,'line']]},
  {x:1481, y:329, w:118, h:27, rows:[['InjP BPM_d',PINK,'dot']]},
  {x:1513, y:378, w:86, h:27, rows:[['QI4E_d',QGRN,'dot']]},
  {x:1454, y:427, w:145, h:60, rows:[['SE1 middle',RED,'line'],['D8 room',BLUE,'line'],['SE1 P.cable','#000','line']]},
  {x:1529, y:481, w:70, h:26, rows:[['X',BLUE,'dot']]}
];
legends.forEach(b => {
  const d = document.createElement('div');
  d.className = 'leg';
  d.style.cssText = `left:${b.x}px;top:${b.y}px;width:${b.w}px;height:${b.h}px;`;
  b.rows.forEach((r, i) => {
    const [text, color, kind] = r;
    const cy = b.big ? 18 + 28 * i : 13 + 18 * i;
    if (kind === 'line') {
      const ln = document.createElement('div');
      ln.style.cssText = `left:6px;width:40px;top:${cy}px;height:0;border-top:1px solid ${color};`;
      d.appendChild(ln);
    } else if (kind === 'dot') {
      const dt = document.createElement('div');
      dt.style.cssText = `left:5px;top:${cy - 3}px;width:6px;height:6px;border-radius:50%;background:${color};`;
      d.appendChild(dt);
    }
    const t = document.createElement('div');
    t.textContent = text;
    const fs = b.big ? 23 : 13, lhPx = b.big ? 28 : 16;
    t.style.cssText = `left:${kind === 'line' ? 51 : 32}px;top:${cy - lhPx / 2}px;font-family:${b.big ? "'DejaVu Sans'" : "'DejaVu Sans Mono'"};font-size:${fs}px;line-height:${lhPx}px;color:#000;`;
    d.appendChild(t);
  });
  document.body.appendChild(d);
});

// exponent notes beside some axes
const notes = [[46, 434, 'x10<sup>6</sup>'], [-4, 745, 'x10<sup>-6</sup>'], [831, 515, 'x10<sup>7</sup>'], [828, 714, 'x10<sup>-15</sup>']];
notes.forEach(([x, y, html]) => {
  const n = document.createElement('div');
  n.className = 'txt';
  n.style.left = x + 'px'; n.style.top = y + 'px';
  n.innerHTML = html;
  document.body.appendChild(n);
});
</script>
</body>
</html>
